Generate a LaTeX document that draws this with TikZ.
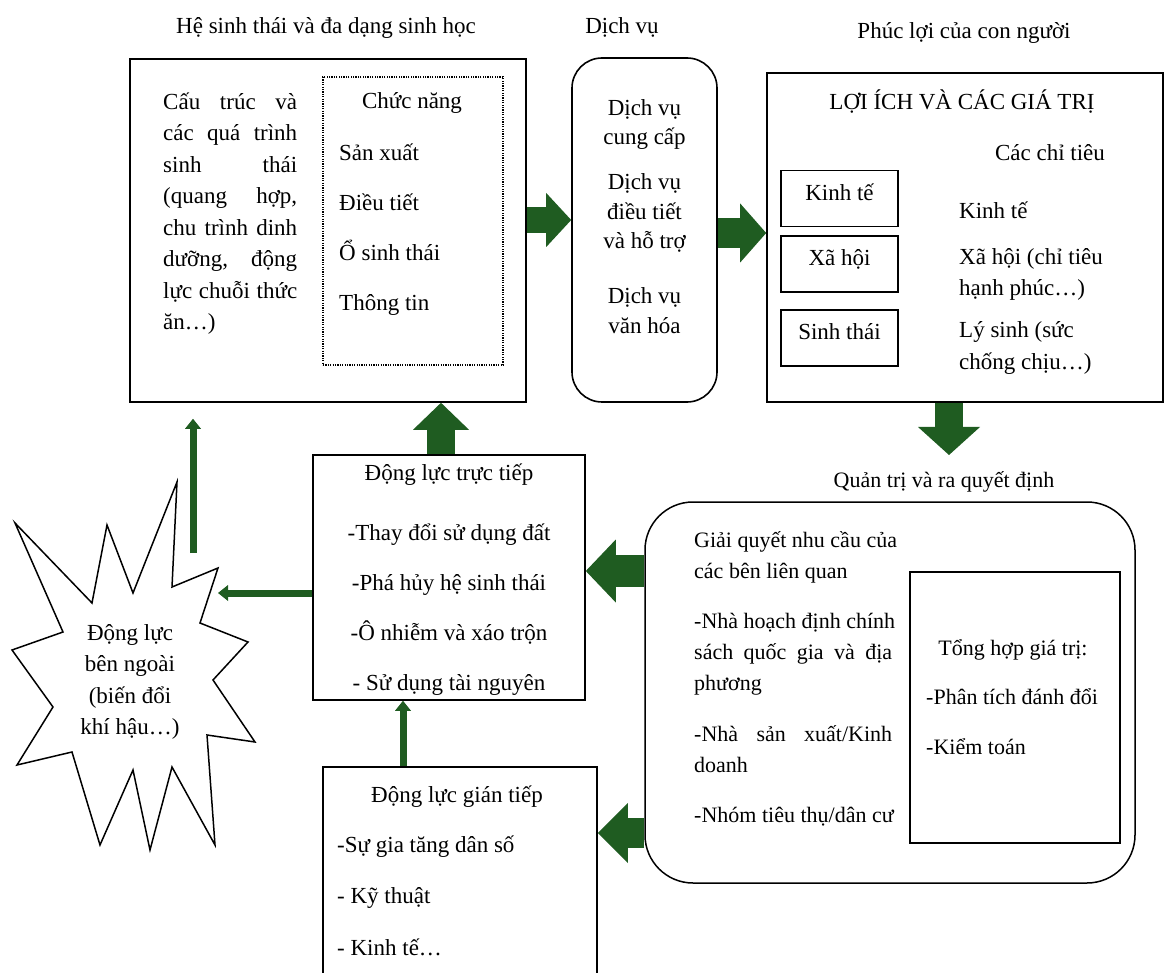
\documentclass[tikz,border=0pt]{standalone}
\usepackage{fontspec}
\setmainfont{Liberation Serif}
\usetikzlibrary{arrows.meta,calc}
\definecolor{flowgreen}{RGB}{31,92,33}
% invisible strut that fixes the top of the first line of a text block
\newcommand{\tstrut}{\rule{0pt}{24pt}}

\begin{document}
\begin{tikzpicture}[x=1pt,y=-1pt,
  every node/.style={inner sep=0pt, font=\fontsize{23}{31.5}\selectfont},
  frame/.style={draw, line width=1.6pt},
  rframe/.style={draw, line width=1.6pt, rounded corners=#1},
  tag/.style={draw, line width=1.8pt, minimum width=117pt, minimum height=56pt,
              text height=14pt, text depth=10pt},
  smalltxt/.style={font=\fontsize{22}{31}\selectfont},
  bigarrow/.style n args={3}{draw=flowgreen, line width=#1,
              -{Triangle[length=#3, width=#2, line width=0pt]}},
  thinarrow/.style={draw=flowgreen, line width=7pt,
              -{Triangle[length=10pt, width=16pt, line width=0pt]}}
]
\useasboundingbox (0,0) rectangle (1165,973);

% ---------- ecosystems and biodiversity ----------
\node[anchor=base] (ecotitle) at (326,34) {Hệ sinh thái và đa dạng sinh học};
\node[frame, minimum width=396pt, minimum height=343pt] (eco) at (328,230.5) {};
\node[draw, line width=1.4pt, dash pattern=on 1.2pt off 1.2pt,
      minimum width=180pt, minimum height=288pt] (func) at (413,221) {};
\node[anchor=north west, align=left] (struct) at (163,85)
  {\tstrut\makebox[134pt][s]{Cấu trúc và}\\
   \makebox[134pt][s]{các quá trình}\\
   \makebox[134pt][s]{sinh thái}\\
   \makebox[134pt][s]{(quang hợp,}\\
   \makebox[134pt][s]{chu trình dinh}\\
   \makebox[134pt][s]{dưỡng, động}\\
   \makebox[134pt][s]{lực chuỗi thức}\\
   ăn…)};
\node[anchor=base] (functitle) at (412,109) {Chức năng};
\node[anchor=north west, align=left] (funclist) at (339,136)
  {\tstrut Sản xuất\\[18.5pt] Điều tiết\\[18.5pt] Ổ sinh thái\\[18.5pt] Thông tin};

% ---------- services ----------
\node[anchor=base] (svctitle) at (622,34) {Dịch vụ};
\node[rframe=30pt, minimum width=145pt, minimum height=344pt] (svc) at (644.5,230) {};
\node[anchor=north, align=center, font=\fontsize{23}{29.5}\selectfont] (svctext) at (644.5,91)
  {\tstrut Dịch vụ\\cung cấp\\[15.5pt]Dịch vụ\\điều tiết\\và hỗ trợ\\[25.5pt]Dịch vụ\\văn hóa};

% ---------- human well-being ----------
\node[anchor=base] (welltitle) at (964,39) {Phúc lợi của con người};
\node[frame, minimum width=396pt, minimum height=329pt] (well) at (965,237.5) {};
\node[anchor=base] (welltop) at (962,110) {LỢI ÍCH VÀ CÁC GIÁ TRỊ};
\node[anchor=base] (indhead) at (1050,161) {Các chỉ tiêu};
\node[tag] (tagA) at (839.5,198.5) {Kinh tế};
\node[tag] (tagB) at (839.5,264) {Xã hội};
\node[tag] (tagC) at (839.5,338) {Sinh thái};
\node[anchor=north west, align=left] (wellind) at (959,194)
  {\tstrut Kinh tế\\[14.5pt] Xã hội (chỉ tiêu\\hạnh phúc…)\\[10.5pt] Lý sinh (sức\\chống chịu…)};

% ---------- governance ----------
\node[anchor=base, smalltxt] (govtitle) at (944,487) {Quản trị và ra quyết định};
\node[rframe=48pt, line width=1.5pt, minimum width=490pt, minimum height=381pt] (gov) at (890,692.5) {};
\node[anchor=north west, align=left, smalltxt] (stake) at (694,523)
  {\tstrut Giải quyết nhu cầu của\\các bên liên quan\\[19pt]-Nhà hoạch định chính\\
   \makebox[198pt][s]{sách quốc gia và địa}\\phương\\[20pt]
   \makebox[198pt][s]{-Nhà sản xuất/Kinh}\\doanh\\[19pt]-Nhóm tiêu thụ/dân cư};
\node[draw, line width=1.4pt, minimum width=210pt, minimum height=271pt] (vals) at (1015,707.5) {};
\node[anchor=base, smalltxt] (valhead) at (1013,655) {Tổng hợp giá trị:};
\node[anchor=north west, align=left, smalltxt] (vallist) at (926,680)
  {\tstrut -Phân tích đánh đổi\\[19pt]-Kiểm toán};

% ---------- direct drivers ----------
\node[frame, minimum width=272pt, minimum height=245pt] (dir) at (449,577.5) {};
\node[anchor=north, align=center] (dirtext) at (449,456)
  {\tstrut Động lực trực tiếp\\[28.5pt]-Thay đổi sử dụng đất\\[18.5pt]-Phá hủy hệ sinh thái\\[18.5pt]-Ô nhiễm và xáo trộn\\[18.5pt]- Sử dụng tài nguyên};

% ---------- indirect drivers ----------
\node[frame, minimum width=274pt, minimum height=223pt] (ind) at (460,878.5) {};
\node[anchor=base] (indtitle) at (457,802) {Động lực gián tiếp};
\node[anchor=north west, align=left] (indlist) at (337,828)
  {\tstrut -Sự gia tăng dân số\\[20pt]- Kỹ thuật\\[20pt]- Kinh tế…};

% ---------- external drivers (burst) ----------
\draw[line width=1.5pt, line join=miter, miter limit=20]
  (15,523) -- (92,603) -- (107,525) -- (133,593) -- (177,482) -- (172,587)
  -- (218,568) -- (200,623) -- (248,642) -- (213,680) -- (255,742) -- (207,735)
  -- (215,845) -- (172,767) -- (150,850) -- (133,770) -- (100,845) -- (72,752)
  -- (17,765) -- (53,707) -- (12,650) -- (63,632) -- cycle;
\node[anchor=north, align=center] (exttext) at (130,616)
  {\tstrut Động lực\\bên ngoài\\(biến đổi\\khí hậu…)};
\coordinate (starR) at (218,593);
\coordinate (starT) at (193,553);

% ---------- connectors ----------
\coordinate (r1) at (0,220);
\coordinate (r2) at (0,233);
\coordinate (c3) at (949,455);
\coordinate (c4) at (441,0);
\coordinate (r5) at (0,571);
\coordinate (r6) at (0,833);
\coordinate (linkX) at (403,0);

\draw[bigarrow={26pt}{54pt}{25pt}] (eco.east |- r1) -- (svc.west |- r1);
\draw[bigarrow={30pt}{59pt}{26pt}] (svc.east |- r2) -- (well.west |- r2);
\draw[bigarrow={28pt}{62pt}{28pt}] (well.south -| c3) -- (c3);
\draw[bigarrow={28pt}{56pt}{27pt}] (dir.north -| c4) -- (eco.south -| c4);
\draw[bigarrow={32pt}{63pt}{30pt}] (gov.west |- r5) -- (dir.east |- r5);
\draw[bigarrow={30pt}{60pt}{30pt}] (gov.west |- r6) -- (ind.east |- r6);

\draw[thinarrow] (dir.west |- starR) -- (starR);
\draw[thinarrow, shorten >=16pt] (starT) -- (eco.south -| starT);
\draw[thinarrow] (ind.north -| linkX) -- (dir.south -| linkX);
\end{tikzpicture}
\end{document}
